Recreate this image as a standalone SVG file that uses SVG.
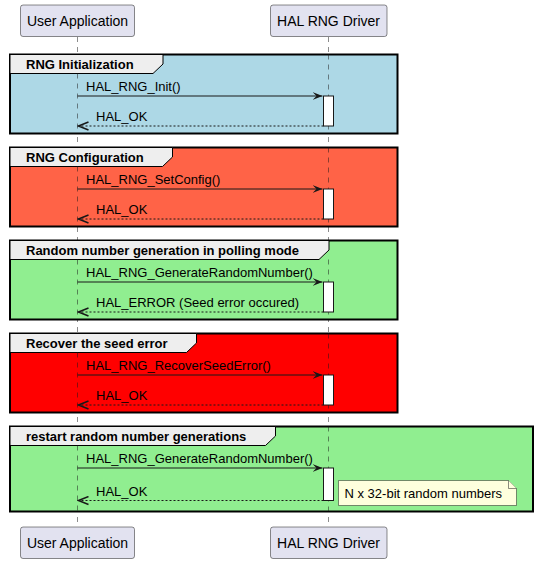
<svg xmlns="http://www.w3.org/2000/svg" width="537" height="564" viewBox="0 0 537 564">
<defs>
<style>
text{font-family:"Liberation Sans",Arial,sans-serif;fill:#000}
.part rect{fill:#E2E2F0;stroke:#181818;stroke-width:0.5}
.part text{font-size:14px;text-anchor:middle}
.life{stroke:#181818;stroke-width:0.5;stroke-dasharray:5,5}
.frame{stroke:#000;stroke-width:2}
.tab{fill:#EEEEEE;stroke:#000;stroke-width:1}
.tabt{font-size:13px;font-weight:bold}
.msg{font-size:13px}
.act{fill:#FFFFFF;stroke:#181818;stroke-width:1}
.call{stroke:#181818;stroke-width:1;fill:none}
.ret{stroke:#181818;stroke-width:1;fill:none;stroke-dasharray:2,2}
.note{fill:#FEFFDD;stroke:#181818;stroke-width:0.5}
</style>
<marker id="ah" markerWidth="11" markerHeight="10" refX="10" refY="5" orient="auto" markerUnits="userSpaceOnUse">
<polygon points="0,1 10,5 0,9 4,5" fill="#181818"/>
</marker>
<marker id="oh" markerWidth="12" markerHeight="10" refX="10.5" refY="5" orient="auto" markerUnits="userSpaceOnUse">
<polyline points="0.5,1 10.5,5 0.5,9" fill="none" stroke="#181818" stroke-width="1.5"/>
</marker>
</defs>
<rect width="537" height="564" fill="#FFFFFF"/>

<g id="lifelines">
<line class="life" x1="77.5" y1="37" x2="77.5" y2="527"/>
<line class="life" x1="328.5" y1="37" x2="328.5" y2="527"/>
</g>

<g id="group-init">
<rect class="frame" x="10" y="54.5" width="387.5" height="79" fill="#ADD8E6"/>
<path class="tab" d="M10,54.5 L163,54.5 L163,64 L153,73.5 L10,73.5 Z"/>
<text class="tabt" x="26" y="68.5">RNG Initialization</text>
</g>
<g id="group-config">
<rect class="frame" x="10" y="147.5" width="387.5" height="79" fill="#FF6347"/>
<path class="tab" d="M10,147.5 L172.5,147.5 L172.5,157 L162.5,166.5 L10,166.5 Z"/>
<text class="tabt" x="26" y="161.5">RNG Configuration</text>
</g>
<g id="group-polling">
<rect class="frame" x="10" y="240.5" width="387.5" height="79" fill="#90EE90"/>
<path class="tab" d="M10,240.5 L329,240.5 L329,250 L319,259.5 L10,259.5 Z"/>
<text class="tabt" x="26" y="254.5">Random number generation in polling mode</text>
</g>
<g id="group-recover">
<rect class="frame" x="10" y="333.5" width="387.5" height="79" fill="#FF0000"/>
<path class="tab" d="M10,333.5 L196.5,333.5 L196.5,343 L186.5,352.5 L10,352.5 Z"/>
<text class="tabt" x="26" y="347.5">Recover the seed error</text>
</g>
<g id="group-restart">
<rect class="frame" x="10" y="426.5" width="523" height="85" fill="#90EE90"/>
<path class="tab" d="M10,426.5 L275.5,426.5 L275.5,436 L265.5,445.5 L10,445.5 Z"/>
<text class="tabt" x="26" y="440.5">restart random number generations</text>
</g>

<g id="lifelines-over">
<line class="life" x1="77.5" y1="73.5" x2="77.5" y2="133"/>
<line class="life" x1="328.5" y1="54.5" x2="328.5" y2="133"/>
<line class="life" x1="77.5" y1="166.5" x2="77.5" y2="226"/>
<line class="life" x1="328.5" y1="147.5" x2="328.5" y2="226"/>
<line class="life" x1="77.5" y1="259.5" x2="77.5" y2="319"/>
<line class="life" x1="328.5" y1="259.5" x2="328.5" y2="319"/>
<line class="life" x1="77.5" y1="352.5" x2="77.5" y2="412"/>
<line class="life" x1="328.5" y1="333.5" x2="328.5" y2="412"/>
<line class="life" x1="77.5" y1="445.5" x2="77.5" y2="511"/>
<line class="life" x1="328.5" y1="426.5" x2="328.5" y2="511"/>
</g>

<g id="activations">
<rect class="act" x="323.5" y="96" width="10" height="30"/>
<rect class="act" x="323.5" y="189" width="10" height="30"/>
<rect class="act" x="323.5" y="282" width="10" height="30"/>
<rect class="act" x="323.5" y="375" width="10" height="30"/>
<rect class="act" x="323.5" y="468" width="10" height="32.5"/>
</g>

<g id="connectors">
<line class="call" x1="77.5" y1="96" x2="322.5" y2="96" marker-end="url(#ah)"/>
<text class="msg" x="86" y="91">HAL_RNG_Init()</text>
<line class="ret" x1="323.5" y1="126" x2="78.5" y2="126" marker-end="url(#oh)"/>
<text class="msg" x="96" y="121">HAL_OK</text>

<line class="call" x1="77.5" y1="189" x2="322.5" y2="189" marker-end="url(#ah)"/>
<text class="msg" x="86" y="184">HAL_RNG_SetConfig()</text>
<line class="ret" x1="323.5" y1="219" x2="78.5" y2="219" marker-end="url(#oh)"/>
<text class="msg" x="96" y="214">HAL_OK</text>

<line class="call" x1="77.5" y1="282" x2="322.5" y2="282" marker-end="url(#ah)"/>
<text class="msg" x="86" y="277">HAL_RNG_GenerateRandomNumber()</text>
<line class="ret" x1="323.5" y1="312" x2="78.5" y2="312" marker-end="url(#oh)"/>
<text class="msg" x="96" y="307">HAL_ERROR (Seed error occured)</text>

<line class="call" x1="77.5" y1="375" x2="322.5" y2="375" marker-end="url(#ah)"/>
<text class="msg" x="86" y="370">HAL_RNG_RecoverSeedError()</text>
<line class="ret" x1="323.5" y1="405" x2="78.5" y2="405" marker-end="url(#oh)"/>
<text class="msg" x="96" y="400">HAL_OK</text>

<line class="call" x1="77.5" y1="468" x2="322.5" y2="468" marker-end="url(#ah)"/>
<text class="msg" x="86" y="463">HAL_RNG_GenerateRandomNumber()</text>
<line class="ret" x1="323.5" y1="500.5" x2="78.5" y2="500.5" marker-end="url(#oh)"/>
<text class="msg" x="96" y="495.5">HAL_OK</text>
</g>

<g id="note">
<path class="note" d="M338.5,480.5 L508.5,480.5 L516.5,488.5 L516.5,505.5 L338.5,505.5 Z"/>
<path class="note" d="M508.5,480.5 L508.5,488.5 L516.5,488.5" fill="none"/>
<text class="msg" x="344.5" y="498">N x 32-bit random numbers</text>
</g>

<g id="user-app-top" class="part">
<rect x="20.5" y="5" width="114" height="31.5" rx="2.5"/>
<text x="77.5" y="26">User Application</text>
</g>
<g id="hal-rng-top" class="part">
<rect x="270.5" y="5" width="116.5" height="31.5" rx="2.5"/>
<text x="328.5" y="26">HAL RNG Driver</text>
</g>
<g id="user-app-bottom" class="part">
<rect x="20.5" y="527" width="114" height="31.5" rx="2.5"/>
<text x="77.5" y="548">User Application</text>
</g>
<g id="hal-rng-bottom" class="part">
<rect x="270.5" y="527" width="116.5" height="31.5" rx="2.5"/>
<text x="328.5" y="548">HAL RNG Driver</text>
</g>
</svg>
